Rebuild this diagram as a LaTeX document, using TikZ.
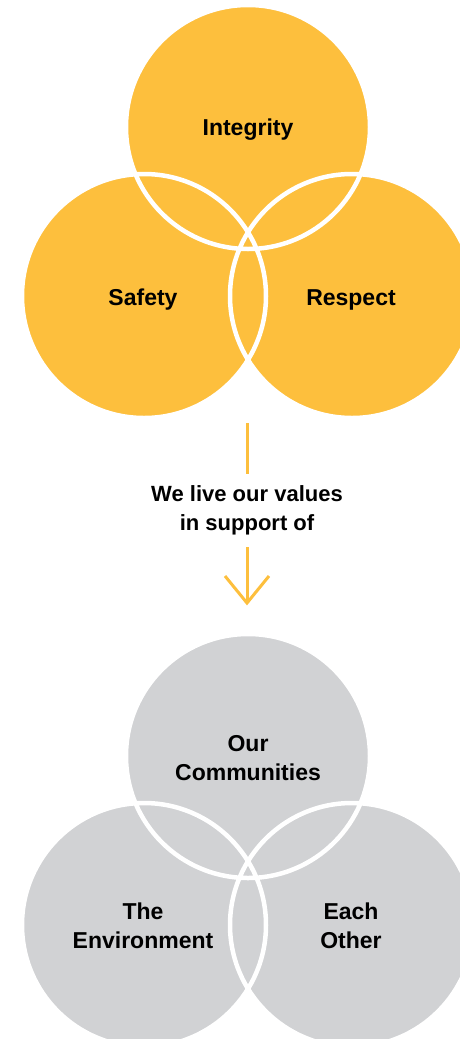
\documentclass[tikz,border=0pt]{standalone}
\usepackage{fontspec}
\setmainfont{Liberation Sans}
\definecolor{valyellow}{HTML}{FDBF3D}
\definecolor{valgray}{HTML}{D1D2D4}
\begin{document}
\begin{tikzpicture}[x=1pt,y=-1pt,
  label text/.style={font=\bfseries\fontsize{23}{29}\selectfont, align=center, text=black, inner sep=0pt},
  mid text/.style={font=\bfseries\fontsize{22}{29}\selectfont, align=center, text=black, inner sep=0pt},
  gap line/.style={white, line width=4.5pt},
  flow line/.style={valyellow, line width=3pt}]
\useasboundingbox (0,0) rectangle (460,1039);
\clip (0,0) rectangle (460,1039);
% top Venn
\coordinate (vt) at (248,127);
\coordinate (vl) at (144,296);
\coordinate (vr) at (352,296);
\fill[valyellow] (vt) circle (122) (vl) circle (122) (vr) circle (122);
\draw[gap line] (vt) circle (122) (vl) circle (122) (vr) circle (122);
\node[label text] (integrity) at (248,130) {Integrity};
\node[label text] (safety) at (143,300) {Safety};
\node[label text] (respect) at (351,300) {Respect};
% connector
\coordinate (lineA) at (247,423);
\coordinate (lineB) at (247,474);
\node[mid text] (mid) at (247,510) {We live our values\\in support of};
\coordinate (lineC) at (247,547);
\coordinate (tip) at (247,603);
\draw[flow line] (lineA) -- (lineB);
\draw[flow line] (lineC) -- (tip);
\draw[flow line, line join=miter] (225,576) -- (tip) -- (269,576);
% bottom Venn
\coordinate (wt) at (248,756);
\coordinate (wl) at (144,925);
\coordinate (wr) at (352,925);
\fill[valgray] (wt) circle (122) (wl) circle (122) (wr) circle (122);
\draw[gap line] (wt) circle (122) (wl) circle (122) (wr) circle (122);
\node[label text] (comm) at (248,758) {Our\\Communities};
\node[label text] (env) at (143,926) {The\\Environment};
\node[label text] (each) at (351,926) {Each\\Other};
\end{tikzpicture}
\end{document}
